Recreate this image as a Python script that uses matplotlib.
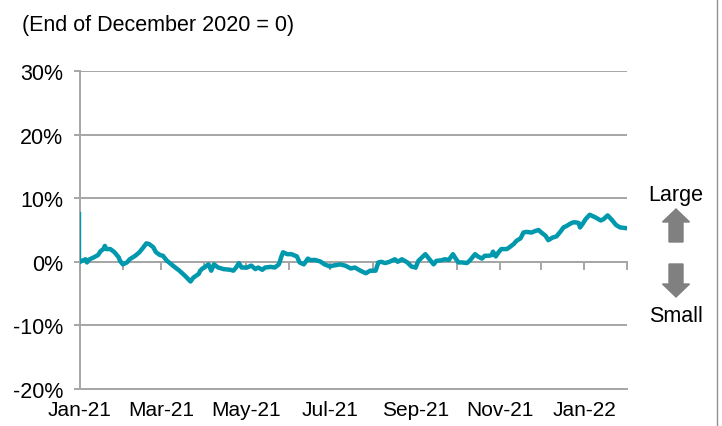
import numpy as np
import pandas as pd
import matplotlib
matplotlib.use("Agg")
import matplotlib.pyplot as plt
import matplotlib.dates as mdates
from matplotlib.patches import FancyArrow
from matplotlib.lines import Line2D

plt.rcParams['font.family'] = ['Liberation Sans', 'DejaVu Sans']

# Series (% change, end of Dec 2020 = 0)
dates = [
    "2021-01-01", "2021-01-05", "2021-01-06", "2021-01-08", "2021-01-11", "2021-01-14",
    "2021-01-16", "2021-01-18", "2021-01-19", "2021-01-20", "2021-01-23", "2021-01-26",
    "2021-01-29", "2021-01-30", "2021-02-01", "2021-02-04", "2021-02-06", "2021-02-10",
    "2021-02-13", "2021-02-16", "2021-02-18", "2021-02-20", "2021-02-23", "2021-02-25",
    "2021-02-28", "2021-03-02", "2021-03-05", "2021-03-07", "2021-03-11", "2021-03-14",
    "2021-03-18", "2021-03-22", "2021-03-24", "2021-03-28", "2021-03-29", "2021-03-31",
    "2021-04-01", "2021-04-04", "2021-04-06", "2021-04-08", "2021-04-11", "2021-04-15",
    "2021-04-20", "2021-04-22", "2021-04-24", "2021-04-26", "2021-04-28", "2021-05-02",
    "2021-05-05", "2021-05-08", "2021-05-10", "2021-05-13", "2021-05-15", "2021-05-19",
    "2021-05-22", "2021-05-25", "2021-05-27", "2021-05-28", "2021-05-31", "2021-06-03",
    "2021-06-07", "2021-06-09", "2021-06-12", "2021-06-15", "2021-06-17", "2021-06-20",
    "2021-06-24", "2021-06-27", "2021-07-01", "2021-07-03", "2021-07-06", "2021-07-08",
    "2021-07-12", "2021-07-16", "2021-07-19", "2021-07-23", "2021-07-27", "2021-07-30",
    "2021-08-03", "2021-08-05", "2021-08-07", "2021-08-10", "2021-08-13", "2021-08-17",
    "2021-08-19", "2021-08-22", "2021-08-26", "2021-08-29", "2021-09-01", "2021-09-03",
    "2021-09-08", "2021-09-11", "2021-09-14", "2021-09-16", "2021-09-20", "2021-09-22",
    "2021-09-25", "2021-09-28", "2021-09-30", "2021-10-02", "2021-10-05", "2021-10-08",
    "2021-10-10", "2021-10-14", "2021-10-16", "2021-10-19", "2021-10-21", "2021-10-24",
    "2021-10-26", "2021-10-27", "2021-10-29", "2021-10-31", "2021-11-02", "2021-11-06",
    "2021-11-08", "2021-11-11", "2021-11-13", "2021-11-16", "2021-11-18", "2021-11-20",
    "2021-11-24", "2021-11-26", "2021-11-29", "2021-12-01", "2021-12-04", "2021-12-06",
    "2021-12-09", "2021-12-12", "2021-12-15", "2021-12-17", "2021-12-19", "2021-12-22",
    "2021-12-24", "2021-12-26", "2021-12-28", "2021-12-29", "2021-12-31", "2022-01-02",
    "2022-01-05", "2022-01-09", "2022-01-13", "2022-01-15", "2022-01-18", "2022-01-21",
    "2022-01-24", "2022-01-27", "2022-01-31",
]
values = [
    0.0, 0.4, -0.1, 0.4, 0.7, 1.05,
    1.7, 2.0, 2.5, 2.0, 2.0, 1.5,
    0.7, 0.15, -0.4, -0.1, 0.4, 0.95,
    1.5, 2.3, 2.9, 2.8, 2.3, 1.5,
    1.05, 0.95, 0.15, -0.2, -0.9, -1.4,
    -2.2, -3.1, -2.5, -1.9, -1.4, -1.0,
    -0.9, -0.4, -1.4, -0.4, -0.9, -1.15,
    -1.26, -1.4, -0.9, -0.2, -0.9, -0.9,
    -0.6, -1.15, -0.9, -1.26, -0.9, -0.8,
    -0.9, -0.4, 0.95, 1.5, 1.2, 1.2,
    0.85, -0.1, -0.4, 0.5, 0.25, 0.3,
    0.05, -0.4, -0.75, -0.6, -0.5, -0.4,
    -0.6, -1.05, -0.9, -1.4, -1.8, -1.4,
    -1.4, -0.1, 0.0, -0.2, 0.0, 0.4,
    0.0, 0.4, -0.1, -0.75, -0.9, 0.15,
    1.2, 0.4, -0.4, 0.15, 0.25, 0.4,
    0.3, 1.2, 0.5, -0.1, -0.1, -0.2,
    0.15, 1.2, 0.85, 0.5, 0.95, 0.95,
    1.05, 1.6, 0.85, 1.5, 2.0, 2.0,
    2.3, 2.8, 3.3, 3.7, 4.6, 4.7,
    4.6, 4.8, 5.0, 4.6, 4.1, 3.4,
    3.8, 4.0, 4.8, 5.4, 5.6, 6.0,
    6.2, 6.2, 6.1, 5.4, 6.0, 6.7,
    7.4, 7.0, 6.5, 6.7, 7.3, 6.6,
    5.8, 5.4, 5.3,
]

# thin vertical stroke at the start of the series
spike_date = "2021-01-01"
spike_vals = [0.0, 7.8]

y_ticks = [-20, -10, 0, 10, 20, 30]
x_start, x_end = "2021-01-01", "2022-02-01"

line_color = "#0098AD"
grid_color = "#A6A6A6"

x = pd.to_datetime(dates)

fig = plt.figure(figsize=(7.22, 4.27), dpi=100)
ax = fig.add_axes([80 / 722, 37 / 427, 547 / 722, 318 / 427])

ax.plot(x, values, color=line_color, lw=3.2, solid_joinstyle='round', zorder=3)
ax.plot(pd.to_datetime([spike_date, spike_date]), spike_vals, color=line_color, lw=1.0, zorder=3)

ax.set_xlim(pd.Timestamp(x_start), pd.Timestamp(x_end))
ax.set_ylim(-20, 30)
ax.set_yticks(y_ticks)
ax.set_yticklabels([f"{t}%" for t in y_ticks], fontsize=15.5)
ax.yaxis.grid(True, color=grid_color, lw=1.4)
ax.set_axisbelow(True)

for s in ['right', 'top']:
    ax.spines[s].set_visible(False)
for s in ['left', 'bottom']:
    ax.spines[s].set_color(grid_color)
    ax.spines[s].set_linewidth(1.4)
ax.tick_params(axis='y', length=4, width=1.4, color=grid_color, pad=8)

# labels at the bottom, every two months
ax.xaxis.set_major_locator(mdates.MonthLocator(bymonth=[1, 3, 5, 7, 9, 11]))
ax.xaxis.set_major_formatter(mdates.DateFormatter("%b-%y"))
ax.tick_params(axis='x', length=0, labelsize=15, pad=8)

# monthly tick marks on the 0% line
sec = ax.secondary_xaxis(0.4)
sec.xaxis.set_major_locator(mdates.MonthLocator())
sec.tick_params(axis='x', direction='out', length=6, width=1.4, color=grid_color, labelbottom=False)
sec.xaxis.set_ticklabels([])
sec.spines['bottom'].set_color(grid_color)
sec.spines['bottom'].set_linewidth(1.4)

fig.text(22 / 722, 1 - 25 / 427, "(End of December 2020 = 0)", fontsize=15.5, va='center', ha='left')

# Large / Small indicator
fig.text(676 / 722, 1 - 196 / 427, "Large", fontsize=15.5, ha='center', va='center')
fig.text(676 / 722, 1 - 316 / 427, "Small", fontsize=15.5, ha='center', va='center')
arrow_kw = dict(width=0.14, head_width=0.27, head_length=0.13, length_includes_head=True,
                color="#808080", transform=fig.dpi_scale_trans)
fig.patches.append(FancyArrow(6.76, 1.84, 0, 0.33, **arrow_kw))
fig.patches.append(FancyArrow(6.76, 1.62, 0, -0.33, **arrow_kw))

# thin frame line on the right edge
fig.add_artist(Line2D([716.5 / 722, 716.5 / 722], [0, 1], color="#909090", lw=1.0,
                      transform=fig.transFigure))

fig.savefig("out.png", dpi=100)
